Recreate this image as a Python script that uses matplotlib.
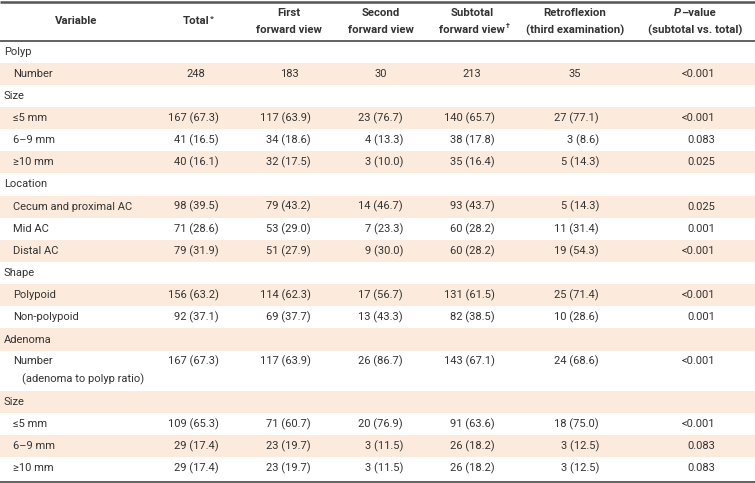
import matplotlib
matplotlib.use("Agg")
import matplotlib.pyplot as plt
from matplotlib import font_manager

# table content
labels = ["Polyp", "Number", "Size", "≤5 mm", "6–9 mm", "≥10 mm", "Location",
          "Cecum and proximal AC", "Mid AC", "Distal AC", "Shape", "Polypoid",
          "Non-polypoid", "Adenoma", "Number", "Size", "≤5 mm", "6–9 mm", "≥10 mm"]
group_row = [True, False, True, False, False, False, True, False, False, False,
             True, False, False, True, False, True, False, False, False]
total = ["", "248", "", "167 (67.3)", "41 (16.5)", "40 (16.1)", "", "98 (39.5)",
         "71 (28.6)", "79 (31.9)", "", "156 (63.2)", "92 (37.1)", "", "167 (67.3)",
         "", "109 (65.3)", "29 (17.4)", "29 (17.4)"]
first = ["", "183", "", "117 (63.9)", "34 (18.6)", "32 (17.5)", "", "79 (43.2)",
         "53 (29.0)", "51 (27.9)", "", "114 (62.3)", "69 (37.7)", "", "117 (63.9)",
         "", "71 (60.7)", "23 (19.7)", "23 (19.7)"]
second = ["", "30", "", "23 (76.7)", "4 (13.3)", "3 (10.0)", "", "14 (46.7)",
          "7 (23.3)", "9 (30.0)", "", "17 (56.7)", "13 (43.3)", "", "26 (86.7)",
          "", "20 (76.9)", "3 (11.5)", "3 (11.5)"]
subtotal = ["", "213", "", "140 (65.7)", "38 (17.8)", "35 (16.4)", "", "93 (43.7)",
            "60 (28.2)", "60 (28.2)", "", "131 (61.5)", "82 (38.5)", "", "143 (67.1)",
            "", "91 (63.6)", "26 (18.2)", "26 (18.2)"]
retro = ["", "35", "", "27 (77.1)", "3 (8.6)", "5 (14.3)", "", "5 (14.3)",
         "11 (31.4)", "19 (54.3)", "", "25 (71.4)", "10 (28.6)", "", "24 (68.6)",
         "", "18 (75.0)", "3 (12.5)", "3 (12.5)"]
pval = ["", "<0.001", "", "<0.001", "0.083", "0.025", "", "0.025", "0.001",
        "<0.001", "", "<0.001", "0.001", "", "<0.001", "", "<0.001", "0.083", "0.083"]
extra_line = {14: "(adenoma to polyp ratio)"}

columns = [total, first, second, subtotal, retro, pval]
col_center = [196, 289, 381, 472, 575, 695]
col_right = [219, 311, 403, 495, 599, 715]

names = {f.name for f in font_manager.fontManager.ttflist}
if "Liberation Sans Narrow" in names:
    fam = ["Liberation Sans Narrow", "DejaVu Sans"]
    fs = 9.0
else:
    fam = ["Roboto", "DejaVu Sans"]
    fs = 8.0
plt.rcParams["font.family"] = fam

txt = "#333333"
band = "#fcebdc"
rule = "#555555"

fig = plt.figure(figsize=(7.55, 4.83), dpi=100)
ax = fig.add_axes([0, 0, 1, 1])
ax.set_xlim(0, 755)
ax.set_ylim(483, 0)
ax.axis("off")

head_top, head_bot, body_bot = 1.5, 40.5, 481.5
h = 22.15
double = 40
tops = []
y = head_bot
for i in range(len(labels)):
    hh = double if i in extra_line else h
    tops.append((y, hh))
    y += hh

for i, (t, hh) in enumerate(tops):
    if i % 2 == 1:
        ax.add_patch(plt.Rectangle((0, t), 755, hh, color=band, lw=0, zorder=0))
    yc = t + hh / 2 if i not in extra_line else t + 10.5
    x0 = 4 if group_row[i] else 13
    ax.text(x0, yc, labels[i], ha="left", va="center", fontsize=fs, color=txt)
    if i in extra_line:
        ax.text(22, yc + 18, extra_line[i], ha="left", va="center", fontsize=fs, color=txt)
    for j, col in enumerate(columns):
        v = col[i]
        if not v:
            continue
        if "(" in v or j == len(columns) - 1:
            ax.text(col_right[j], yc, v, ha="right", va="center", fontsize=fs, color=txt)
        else:
            ax.text(col_center[j], yc, v, ha="center", va="center", fontsize=fs, color=txt)

ax.plot([0, 755], [head_top, head_top], color=rule, lw=1.8, solid_capstyle="butt")
ax.plot([0, 755], [head_bot, head_bot], color=rule, lw=1.3, solid_capstyle="butt")
ax.plot([0, 755], [body_bot, body_bot], color=rule, lw=1.3, solid_capstyle="butt")

# header
hk = dict(fontsize=fs + 0.2, color=txt, fontweight="bold", va="center")
y1, y2, ym = 13, 30, 21.5
ax.text(76, ym, "Variable", ha="center", **hk)
ax.text(col_center[0], ym, "Total", ha="center", **hk)
ax.text(col_center[1], y1, "First", ha="center", **hk)
ax.text(col_center[1], y2, "forward view", ha="center", **hk)
ax.text(col_center[2], y1, "Second", ha="center", **hk)
ax.text(col_center[2], y2, "forward view", ha="center", **hk)
ax.text(col_center[3], y1, "Subtotal", ha="center", **hk)
ax.text(col_center[3], y2, "forward view", ha="center", **hk)
ax.text(col_center[4], y1, "Retroflexion", ha="center", **hk)
ax.text(col_center[4], y2, "(third examination)", ha="center", **hk)
ax.text(col_center[5], y2, "(subtotal vs. total)", ha="center", **hk)

fig.canvas.draw()
r = fig.canvas.get_renderer()
inv = ax.transData.inverted()


def right_edge(t):
    bb = t.get_window_extent(r)
    return inv.transform((bb.x1, bb.y1))[0]


tot = [t for t in ax.texts if t.get_text() == "Total"][0]
ax.text(right_edge(tot) + 0.3, ym - 3.5, "*", ha="left", va="center",
        fontsize=fs * 0.75, color=txt, fontweight="bold")
sub = [t for t in ax.texts if t.get_text() == "forward view"][2]
ax.text(right_edge(sub) + 0.6, y2 - 4, "†", ha="left", va="center",
        fontsize=fs * 0.65, color=txt, fontweight="bold")

# P-value with italic P, centred as a whole
p = ax.text(0, y1, "P", ha="left", fontstyle="italic", **hk)
rest = ax.text(0, y1, "–value", ha="left", **hk)
fig.canvas.draw()
wp = p.get_window_extent(r).width
wr = rest.get_window_extent(r).width
start = col_center[5] - (wp + wr) / 2
p.set_x(start)
rest.set_x(start + wp + 0.2)

fig.savefig("out.png", dpi=100)
